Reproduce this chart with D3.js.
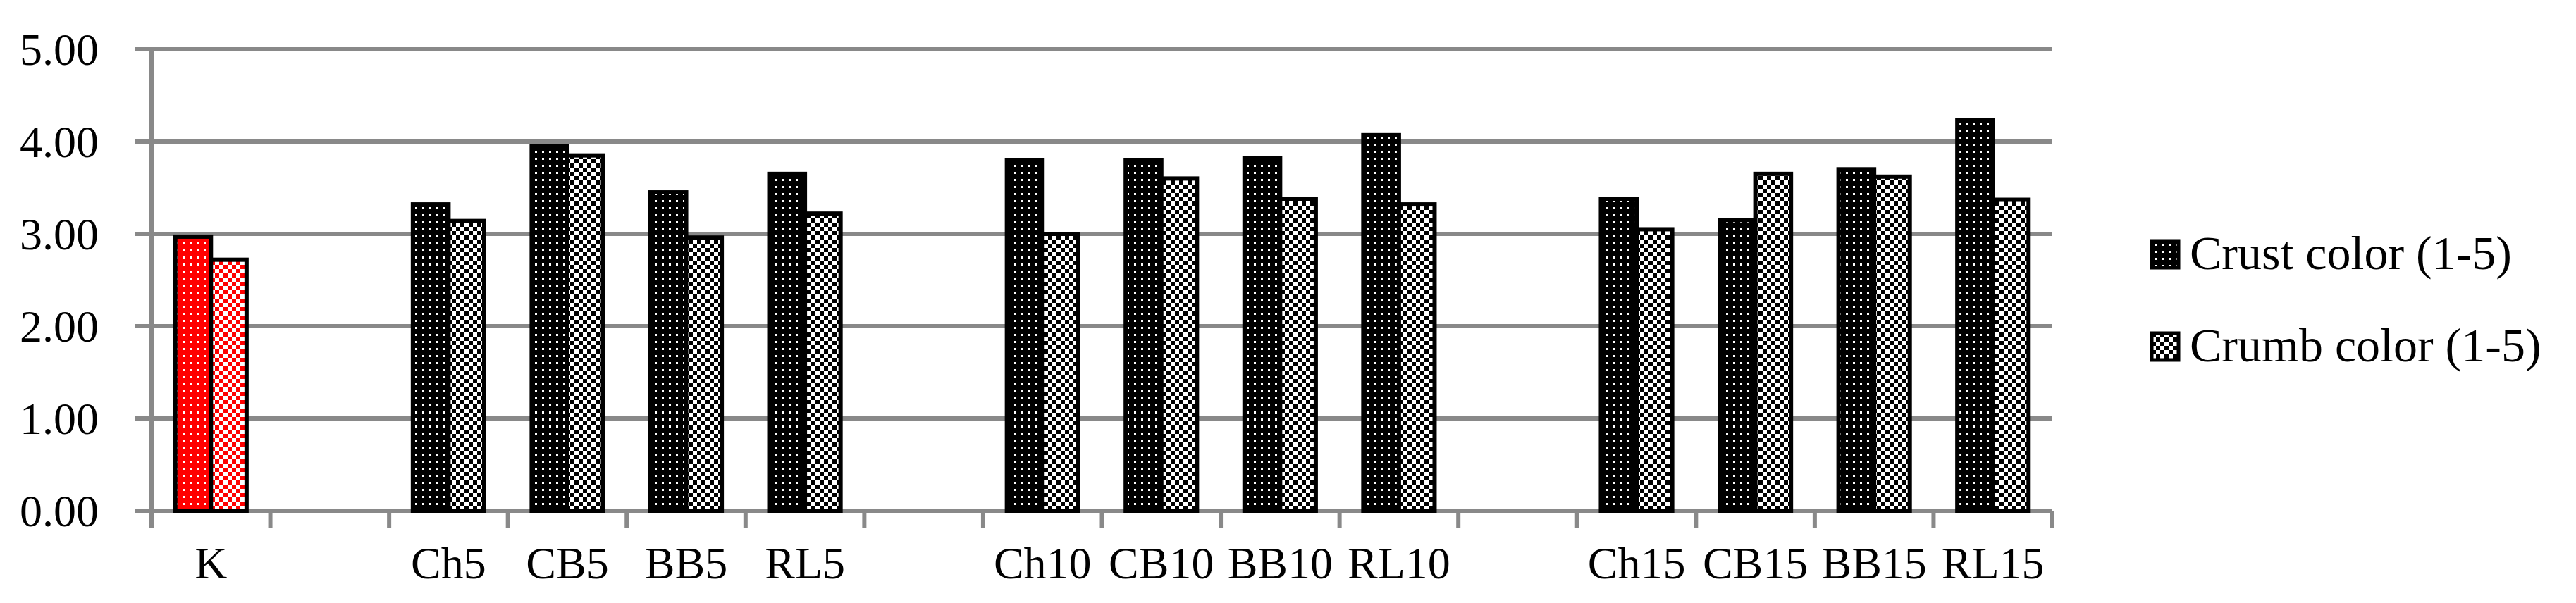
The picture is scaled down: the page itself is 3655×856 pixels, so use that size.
<!DOCTYPE html>
<html><head><meta charset="utf-8">
<script src="https://cdn.jsdelivr.net/npm/d3@7"></script>
<style>body{margin:0;background:#fff}</style>
</head><body><div id="wrapper"></div>
<script>
// data
const categories = ["K","","Ch5","CB5","BB5","RL5","","Ch10","CB10","BB10","RL10","","Ch15","CB15","BB15","RL15"]
const crust = [2.97,null,3.32,3.95,3.45,3.65,null,3.80,3.80,3.82,4.07,null,3.38,3.15,3.70,4.23]
const crumb = [2.72,null,3.14,3.85,2.96,3.22,null,3.00,3.60,3.38,3.32,null,3.05,3.65,3.62,3.37]
const seriesNames = ["Crust color (1-5)","Crumb color (1-5)"]
const yTicks = [0,1,2,3,4,5]

const dimensions = {width:3655,height:856,margin:{top:70,left:215,right:743,bottom:131}}
dimensions.boundedWidth = dimensions.width - dimensions.margin.left - dimensions.margin.right
dimensions.boundedHeight = dimensions.height - dimensions.margin.top - dimensions.margin.bottom

const svg = d3.select("#wrapper").append("svg")
  .attr("width",dimensions.width).attr("height",dimensions.height)
  .style("font-family","'Liberation Serif','DejaVu Serif',serif")

// patterns
const defs = svg.append("defs")
function crustPattern(id,color){
  const p = defs.append("pattern").attr("id",id).attr("patternUnits","userSpaceOnUse").attr("width",10).attr("height",10)
  p.append("rect").attr("width",10).attr("height",10).attr("fill",color)
  p.append("rect").attr("x",4).attr("y",4).attr("width",3).attr("height",3).attr("fill","#fff")
}
function crumbPattern(id,color){
  const p = defs.append("pattern").attr("id",id).attr("patternUnits","userSpaceOnUse").attr("width",12).attr("height",12)
  p.append("rect").attr("width",12).attr("height",12).attr("fill","#fff")
  p.append("rect").attr("x",0).attr("y",0).attr("width",6).attr("height",6).attr("fill",color)
  p.append("rect").attr("x",6).attr("y",6).attr("width",6).attr("height",6).attr("fill",color)
}
crustPattern("crustK","#ff0000"); crumbPattern("crumbK","#ff0000")
crustPattern("crust","#000"); crumbPattern("crumb","#000")

const bounds = svg.append("g").attr("transform",`translate(${dimensions.margin.left},${dimensions.margin.top})`)

const xScale = d3.scaleBand().domain(d3.range(categories.length)).range([0,dimensions.boundedWidth]).paddingInner(0.4).paddingOuter(0.2)
const yScale = d3.scaleLinear().domain([0,5]).range([dimensions.boundedHeight,0])
const sub = d3.scaleBand().domain([0,1]).range([0,xScale.bandwidth()])
const step = xScale.step()

// gridlines + y ticks
bounds.selectAll(".grid").data(yTicks).enter().append("line")
  .attr("x1",-23).attr("x2",dimensions.boundedWidth)
  .attr("y1",d=>yScale(d)).attr("y2",d=>yScale(d))
  .attr("stroke","#898989").attr("stroke-width",6)
bounds.append("line").attr("x1",0).attr("x2",0).attr("y1",0).attr("y2",dimensions.boundedHeight+24)
  .attr("stroke","#898989").attr("stroke-width",6)
bounds.selectAll(".xt").data(d3.range(1,categories.length+1)).enter().append("line")
  .attr("x1",d=>d*step).attr("x2",d=>d*step)
  .attr("y1",dimensions.boundedHeight).attr("y2",dimensions.boundedHeight+24)
  .attr("stroke","#898989").attr("stroke-width",6)

bounds.selectAll(".yl").data(yTicks).enter().append("text")
  .attr("x",-75).attr("y",d=>yScale(d)+22).attr("text-anchor","end")
  .attr("font-size",64).text(d=>d.toFixed(2))

bounds.selectAll(".xl").data(categories).enter().append("text")
  .attr("x",(d,i)=>xScale(i)+xScale.bandwidth()/2).attr("y",dimensions.boundedHeight+96)
  .attr("text-anchor","middle").attr("font-size",64).text(d=>d)

// bars
const series = [crust,crumb]
series.forEach((vals,s)=>{
  bounds.selectAll(".b"+s).data(vals.map((v,i)=>({v,i})).filter(d=>d.v!=null)).enter().append("rect")
    .attr("x",d=>xScale(d.i)+sub(s))
    .attr("y",d=>yScale(d.v))
    .attr("width",sub.bandwidth())
    .attr("height",d=>dimensions.boundedHeight-yScale(d.v))
    .attr("fill",d=>`url(#${s===0?"crust":"crumb"}${d.i===0?"K":""})`)
    .attr("stroke","#000").attr("stroke-width",6)
})

// legend
const legend = svg.append("g").attr("transform","translate(3053,342)")
seriesNames.forEach((n,i)=>{
  const g = legend.append("g").attr("transform",`translate(0,${i*131})`)
  g.append("rect").attr("width",38).attr("height",38).attr("fill",`url(#${i===0?"crust":"crumb"})`)
    .attr("stroke","#000").attr("stroke-width",5)
  g.append("text").attr("x",54).attr("y",40).attr("font-size",68).text(n)
})
</script></body></html>
